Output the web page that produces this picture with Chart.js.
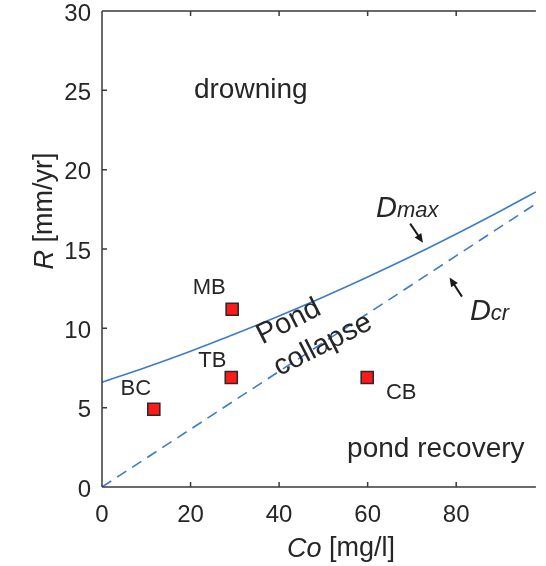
<!DOCTYPE html>
<html>
<head>
<meta charset="utf-8">
<script src="https://cdn.jsdelivr.net/npm/chart.js@4"></script>
<style>
  html, body { margin: 0; padding: 0; background: #fff; }
  #wrap { width: 546px; height: 566px; }
</style>
</head>
<body>
<div id="wrap"><canvas id="pondChart" width="546" height="566"></canvas></div>
<script>
// values
const dmaxCo = [0, 10, 20, 30, 40, 50, 60, 70, 80, 90, 98];
const dmaxR = [6.6, 7.55, 8.56, 9.64, 10.78, 11.98, 13.24, 14.56, 15.95, 17.4, 18.6];
const dcrCo = [0, 98];
const dcrR = [0, 17.85];
const siteNames = ['BC', 'MB', 'TB', 'CB'];
const siteCo = [11.7, 29.4, 29.2, 59.9];
const siteR = [4.9, 11.2, 6.9, 6.9];
const xTicks = [0, 20, 40, 60, 80];
const yTicks = [0, 5, 10, 15, 20, 25, 30];

const FONT = '"Liberation Sans", Arial, Helvetica, sans-serif';
const INK = '#262626';
const BLUE = '#3d7cc9';

// label offsets (px) from each site marker
const siteLabelOffset = { BC: [-18, -20], MB: [-23, -21], TB: [-19, -17], CB: [34, 15] };

function toPts(xs, ys) {
    return xs.map((x, i) => ({ x: x, y: ys[i] }));
}

const decorations = {
    id: 'decorations',
    afterDraw(chart) {
        const ctx = chart.ctx;
        const a = chart.chartArea;
        const xs = chart.scales.x, ys = chart.scales.y;
        ctx.save();

        // box: left, bottom, top
        ctx.strokeStyle = '#3a3a3a';
        ctx.lineWidth = 1.5;
        ctx.beginPath();
        ctx.moveTo(a.left, a.top); ctx.lineTo(a.left, a.bottom);
        ctx.moveTo(a.left, a.bottom); ctx.lineTo(a.right, a.bottom);
        ctx.moveTo(a.left, a.top); ctx.lineTo(a.right, a.top);
        // inward ticks
        xTicks.forEach(v => {
            const px = xs.getPixelForValue(v);
            ctx.moveTo(px, a.bottom); ctx.lineTo(px, a.bottom - 5);
            ctx.moveTo(px, a.top); ctx.lineTo(px, a.top + 5);
        });
        yTicks.forEach(v => {
            const py = ys.getPixelForValue(v);
            ctx.moveTo(a.left, py); ctx.lineTo(a.left + 5, py);
        });
        ctx.stroke();

        ctx.fillStyle = INK;

        // site labels
        ctx.font = '22px ' + FONT;
        ctx.textAlign = 'center';
        ctx.textBaseline = 'middle';
        siteNames.forEach((n, i) => {
            const off = siteLabelOffset[n];
            ctx.fillText(n, xs.getPixelForValue(siteCo[i]) + off[0], ys.getPixelForValue(siteR[i]) + off[1]);
        });

        // region labels
        ctx.font = '28px ' + FONT;
        ctx.textBaseline = 'alphabetic';
        ctx.fillText('drowning', xs.getPixelForValue(33.6), ys.getPixelForValue(24.5));
        ctx.fillText('pond recovery', xs.getPixelForValue(75.4), ys.getPixelForValue(1.9));

        // rotated "Pond collapse"
        [['Pond', 42.2, 10.4], ['collapse', 49.9, 8.95]].forEach(t => {
            ctx.save();
            ctx.translate(xs.getPixelForValue(t[1]), ys.getPixelForValue(t[2]));
            ctx.rotate(-27 * Math.PI / 180);
            ctx.textBaseline = 'middle';
            ctx.font = '29px ' + FONT;
            ctx.fillText(t[0], 0, 0);
            ctx.restore();
        });

        // D labels with subscripts
        function dLabel(sub, x, y) {
            let px = xs.getPixelForValue(x), py = ys.getPixelForValue(y);
            ctx.textAlign = 'left';
            ctx.textBaseline = 'alphabetic';
            ctx.font = 'italic 29px ' + FONT;
            ctx.fillText('D', px, py);
            px += ctx.measureText('D').width;
            ctx.font = 'italic 22px ' + FONT;
            ctx.fillText(sub, px, py);
        }
        dLabel('max', 61.9, 17.0);
        dLabel('cr', 83.1, 10.5);

        // arrows
        function arrow(x0, y0, x1, y1) {
            const p0 = [xs.getPixelForValue(x0), ys.getPixelForValue(y0)];
            const p1 = [xs.getPixelForValue(x1), ys.getPixelForValue(y1)];
            const ang = Math.atan2(p1[1] - p0[1], p1[0] - p0[0]);
            ctx.strokeStyle = '#1a1a1a';
            ctx.lineWidth = 2;
            ctx.beginPath();
            ctx.moveTo(p0[0], p0[1]);
            ctx.lineTo(p1[0] - 5 * Math.cos(ang), p1[1] - 5 * Math.sin(ang));
            ctx.stroke();
            ctx.fillStyle = '#1a1a1a';
            ctx.beginPath();
            ctx.moveTo(p1[0], p1[1]);
            ctx.lineTo(p1[0] - 9 * Math.cos(ang) + 4 * Math.sin(ang), p1[1] - 9 * Math.sin(ang) - 4 * Math.cos(ang));
            ctx.lineTo(p1[0] - 9 * Math.cos(ang) - 4 * Math.sin(ang), p1[1] - 9 * Math.sin(ang) + 4 * Math.cos(ang));
            ctx.closePath();
            ctx.fill();
        }
        arrow(69.6, 16.6, 72.5, 15.4);
        arrow(81.3, 12.0, 78.5, 13.2);

        // axis titles with italic variable names
        function mixed(parts, cx, cy, rot) {
            ctx.save();
            ctx.translate(cx, cy);
            ctx.rotate(rot);
            ctx.fillStyle = INK;
            ctx.textBaseline = 'middle';
            ctx.textAlign = 'left';
            let total = 0;
            parts.forEach(p => { ctx.font = p[1] + '27px ' + FONT; total += ctx.measureText(p[0]).width; });
            let x = -total / 2;
            parts.forEach(p => {
                ctx.font = p[1] + '27px ' + FONT;
                ctx.fillText(p[0], x, 0);
                x += ctx.measureText(p[0]).width;
            });
            ctx.restore();
        }
        mixed([['Co', 'italic '], [' [mg/l]', '']], 341, 549, 0);
        mixed([['R', 'italic '], [' [mm/yr]', '']], 45, 211, -Math.PI / 2);

        ctx.restore();
    }
};

const ctx = document.getElementById('pondChart').getContext('2d');
const pondChart = new Chart(ctx, {
    type: 'scatter',
    data: {
        datasets: [
            {
                label: 'Dmax',
                type: 'line',
                data: toPts(dmaxCo, dmaxR),
                borderColor: BLUE,
                borderWidth: 1.6,
                pointRadius: 0,
                fill: false,
                cubicInterpolationMode: 'monotone'
            },
            {
                label: 'Dcr',
                type: 'line',
                data: toPts(dcrCo, dcrR),
                borderColor: BLUE,
                borderWidth: 1.6,
                borderDash: [11, 7],
                pointRadius: 0,
                fill: false
            },
            {
                label: 'sites',
                data: toPts(siteCo, siteR),
                pointStyle: 'rect',
                pointRadius: 8.5,
                pointHoverRadius: 8.5,
                backgroundColor: '#ff1a1a',
                borderColor: '#2b2b2b',
                borderWidth: 1.6
            }
        ]
    },
    options: {
        responsive: false,
        animation: false,
        layout: { padding: { top: 11, right: 0, left: 0, bottom: 0 } },
        plugins: {
            legend: { display: false },
            tooltip: { enabled: false }
        },
        scales: {
            x: {
                type: 'linear',
                min: 0,
                max: 98,
                grid: { display: false, drawTicks: false },
                border: { display: false },
                afterBuildTicks: s => { s.ticks = xTicks.map(v => ({ value: v })); },
                afterFit: s => { s.height = 79; s.paddingRight = 0; s.paddingLeft = 0; },
                ticks: {
                    color: INK,
                    padding: 14,
                    maxRotation: 0,
                    font: { family: FONT, size: 24 }
                }
            },
            y: {
                type: 'linear',
                min: 0,
                max: 30,
                grid: { display: false, drawTicks: false },
                border: { display: false },
                afterBuildTicks: s => { s.ticks = yTicks.map(v => ({ value: v })); },
                afterFit: s => { s.width = 102; s.paddingTop = 0; s.paddingBottom = 0; },
                ticks: {
                    color: INK,
                    padding: 11,
                    labelOffset: 3,
                    font: { family: FONT, size: 24 }
                }
            }
        }
    },
    plugins: [decorations]
});
</script>
</body>
</html>
